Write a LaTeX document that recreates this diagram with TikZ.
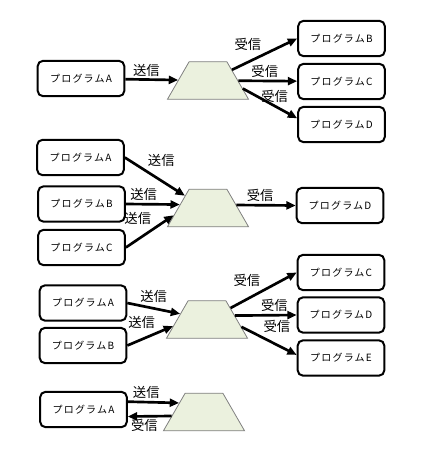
\documentclass[tikz,border=0pt]{standalone}
\usepackage{fontspec}
\newfontfamily\jpfont{Noto Sans CJK JP}
\newfontfamily\jpboxfont[LetterSpace=12]{Noto Sans CJK JP}
\usetikzlibrary{shapes.geometric,arrows.meta}
\definecolor{queuegreen}{HTML}{EBF1DE}

\begin{document}
\begin{tikzpicture}[x=0.75pt,y=-0.75pt,
  prog/.style={draw, line width=1.5pt, rounded corners=4pt, minimum width=65pt,
    minimum height=26.5pt, inner sep=0pt, font=\jpboxfont\fontsize{7.5}{9}\selectfont},
  queue/.style={trapezium, trapezium angle=60, draw=gray,
    line width=0.6pt, fill=queuegreen, minimum width=61pt, minimum height=24pt, inner sep=1pt},
  msg/.style={line width=2pt, -{Triangle[length=7pt,width=6pt]}},
  lbl/.style={font=\jpfont\fontsize{10}{12}\selectfont, inner sep=1.5pt}]
  \useasboundingbox (0,0) rectangle (422,451);

  % one sender, three receivers
  \node[prog] (progA1) at (81,78.5) {プログラムA};
  \node[queue] (queue1) at (208,80.5) {};
  \node[prog] (progB1) at (341.5,38.5) {プログラムB};
  \node[prog] (progC1) at (341.5,81.5) {プログラムC};
  \node[prog] (progD1) at (341.5,124.5) {プログラムD};

  \draw[msg] (progA1) -- (queue1) node[lbl, pos=0.4, above] (sendA1) {送信};
  \draw[msg] (queue1.24) -- (progB1.west) node[lbl, midway, above left] (recvB1) {受信};
  \draw[msg] (queue1) -- (progC1) node[lbl, pos=0.45, above] (recvC1) {受信};
  \draw[msg] (queue1.-13) -- (progD1.172) node[lbl, pos=0.28, right] (recvD1) {受信};

  % three senders, one receiver
  \node[prog] (progA2) at (80.5,157.5) {プログラムA};
  \node[prog] (progB2) at (81.5,204) {プログラムB};
  \node[prog] (progC2) at (81.5,247.5) {プログラムC};
  \node[queue] (queue2) at (208,208) {};
  \node[prog] (progD2) at (340,205.5) {プログラムD};

  \draw[msg] (progA2.east) -- (queue2.152) node[lbl, pos=0.33, above right] (sendA2) {送信};
  \draw[msg] (progB2.east) -- (queue2.173) node[lbl, pos=0.33, above] (sendB2) {送信};
  \draw[msg] (progC2.east) -- (queue2.192) node[lbl, pos=0.6, above left] (sendC2) {送信};
  \draw[msg] (queue2.6) -- (progD2.west) node[lbl, pos=0.4, above] (recvD2) {受信};

  % two senders, three receivers
  \node[prog] (progA3) at (83,303) {プログラムA};
  \node[prog] (progB3) at (83,345.5) {プログラムB};
  \node[queue] (queue3) at (207,319.5) {};
  \node[prog] (progC3) at (341,272.5) {プログラムC};
  \node[prog] (progD3) at (341,315) {プログラムD};
  \node[prog] (progE3) at (341,358) {プログラムE};

  \draw[msg] (progA3.east) -- (queue3.168) node[lbl, midway, above=2pt] (sendA3) {送信};
  \draw[msg] (progB3.east) -- (queue3.191) node[lbl, pos=0.68, above left] (sendB3) {送信};
  \draw[msg] (queue3.26) -- (progC3.west) node[lbl, midway, above left] (recvC3) {受信};
  \draw[msg] (queue3.8) -- (progD3.west) node[lbl, pos=0.64, above] (recvD3) {受信};
  \draw[msg] (queue3.-12) -- (progE3.176) node[lbl, pos=0.34, above right] (recvE3) {受信};

  % send and receive
  \node[prog] (progA4) at (83.5,409.5) {プログラムA};
  \node[queue] (queue4) at (204,412) {};

  \draw[msg] (progA4.10) -- (queue4.160) node[lbl, pos=0.36, above] (sendA4) {送信};
  \draw[msg] (queue4.187) -- (progA4.-9) node[lbl, pos=0.62, below] (recvA4) {受信};
\end{tikzpicture}
\end{document}
